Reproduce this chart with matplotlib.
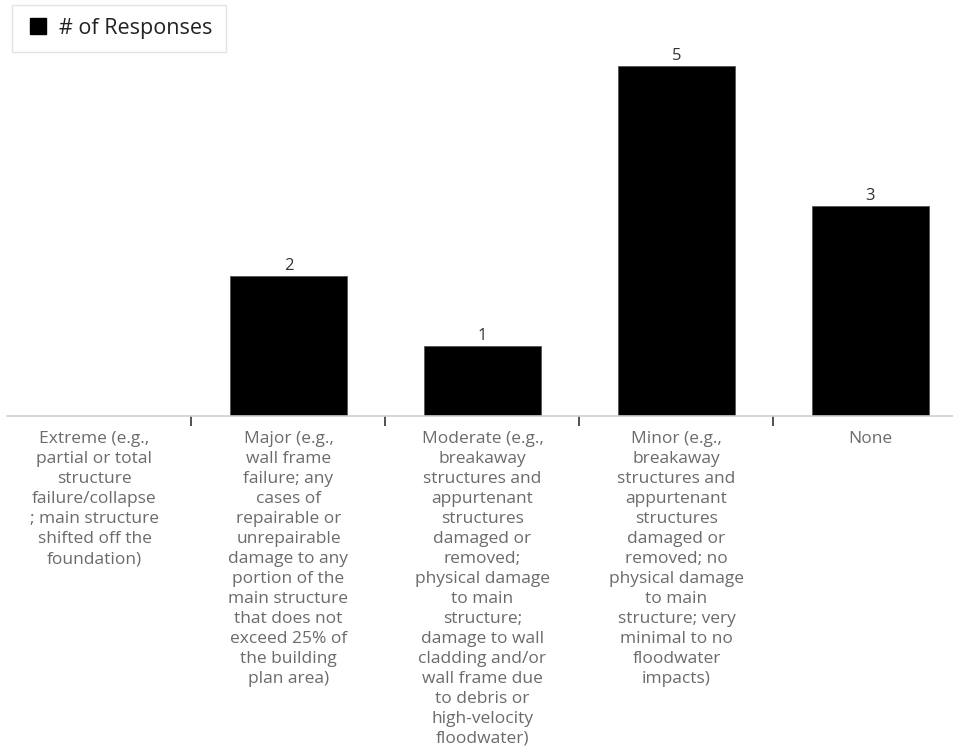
import matplotlib
matplotlib.use('Agg')
import matplotlib.pyplot as plt
import numpy as np
from matplotlib.lines import Line2D

categories = [
    "Extreme (e.g.,\npartial or total\nstructure\nfailure/collapse\n; main structure\nshifted off the\nfoundation)",
    "Major (e.g.,\nwall frame\nfailure; any\ncases of\nrepairable or\nunrepairable\ndamage to any\nportion of the\nmain structure\nthat does not\nexceed 25% of\nthe building\nplan area)",
    "Moderate (e.g.,\nbreakaway\nstructures and\nappurtenant\nstructures\ndamaged or\nremoved;\nphysical damage\nto main\nstructure;\ndamage to wall\ncladding and/or\nwall frame due\nto debris or\nhigh-velocity\nfloodwater)",
    "Minor (e.g.,\nbreakaway\nstructures and\nappurtenant\nstructures\ndamaged or\nremoved; no\nphysical damage\nto main\nstructure; very\nminimal to no\nfloodwater\nimpacts)",
    "None",
]
responses = [0, 2, 1, 5, 3]

plt.rcParams['font.family'] = ['Open Sans', 'DejaVu Sans']

W, H = 954, 750
fig = plt.figure(figsize=(W / 100, H / 100), dpi=100)
# axes placed in pixel terms: baseline at y=416, top at y=40
left_px, right_px, top_px, base_px = 7, 954, 40, 416
ax = fig.add_axes([left_px / W, (H - base_px) / H,
                   (right_px - left_px) / W, (base_px - top_px) / H])

x = np.arange(len(categories))
ax.bar(x, responses, width=0.6, color='black', edgecolor='#555555', linewidth=0.6)

for xi, v in zip(x, responses):
    if v > 0:
        ax.text(xi, v + 0.03, str(v), ha='center', va='bottom', fontsize=12, color='#333333')

slot_px = 194.0
center0_px = 94.5
ax.set_xlim((left_px - center0_px) / slot_px, (right_px - center0_px) / slot_px)
ax.set_ylim(0, (base_px - top_px) / 70.0)

for s in ['top', 'right', 'left']:
    ax.spines[s].set_visible(False)
ax.spines['bottom'].set_color('#d0d0d0')
ax.spines['bottom'].set_linewidth(1.2)
ax.set_yticks([])

ax.set_xticks(x)
ax.set_xticklabels(categories, fontsize=12.5, color='#6b6b6b', linespacing=1.33)
ax.tick_params(axis='x', which='major', length=0, pad=11)
ax.set_xticks(x[:-1] + 0.5, minor=True)
ax.tick_params(axis='x', which='minor', length=7, width=1.2, color='#333333', direction='out')
for lbl in ax.get_xticklabels():
    lbl.set_verticalalignment('top')

handle = Line2D([], [], marker='s', linestyle='none', markersize=12, color='black')
leg = ax.legend([handle], ['# of Responses'], loc='upper left',
                bbox_to_anchor=(12 / W, 1 - 5 / H), bbox_transform=fig.transFigure,
                frameon=True, fancybox=False, fontsize=15.5, handletextpad=0.4,
                borderpad=0.6, handlelength=1.2, borderaxespad=0)
leg.get_frame().set_edgecolor('#dddddd')
leg.get_frame().set_linewidth(1.0)
for t in leg.get_texts():
    t.set_color('#222222')

fig.savefig('out.png', dpi=100)
